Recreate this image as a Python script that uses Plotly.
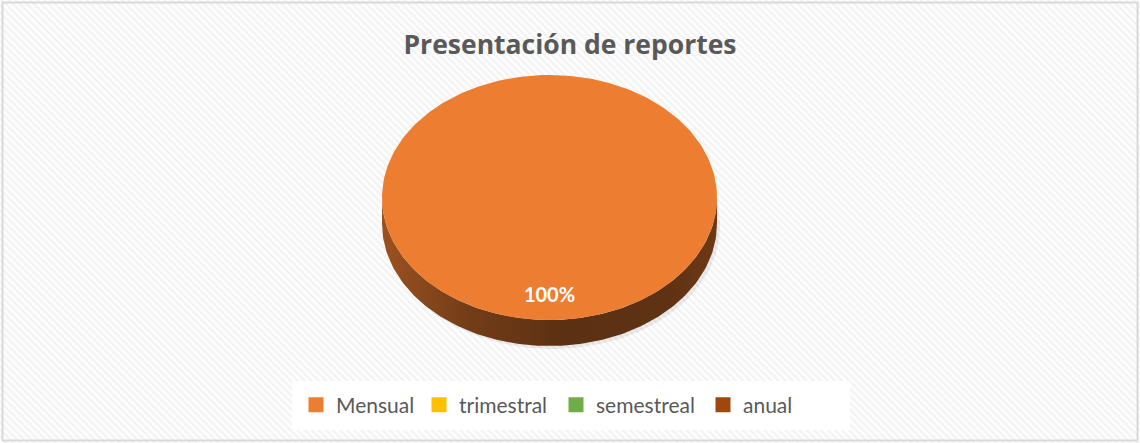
import base64
import numpy as np
import plotly.graph_objects as go

# ---------------- data ----------------
categories = ["Mensual", "trimestral", "semestreal", "anual"]
values = [100, 0, 0, 0]
colors = ["#ED7D31", "#FFC000", "#70AD47", "#9E480E"]
chart_title = "Presentación de reportes"

# ---------------- geometry (pixel space) ----------------
W, H = 1140, 443
CX, CY = 549.5, 197.5      # centre of top face
RX, RY = 167.5, 122.5      # semi-axes of top face
DEPTH = 26                 # thickness of the 3D pie
LABEL_R = 0.81
LEGEND_TEXT_X = [337, 460, 597, 744]   # left edge of each legend label (px)


def hex_rgb(h):
    h = h.lstrip("#")
    return tuple(int(h[i:i + 2], 16) for i in (0, 2, 4))


def shade(h, f):
    r, g, b = hex_rgb(h)
    return "rgb(%d,%d,%d)" % (r * f, g * f, b * f)


def ell(theta, dy=0.0, r=1.0):
    return CX + r * RX * np.cos(theta), CY + dy + r * RY * np.sin(theta)


fig = go.Figure()

# soft shadow under the pie
th = np.linspace(0, 2 * np.pi, 200)
sx, sy = ell(th, dy=DEPTH + 3)
fig.add_trace(go.Scatter(x=sx + 3, y=sy, fill="toself", mode="lines",
                         line=dict(width=0), fillcolor="rgba(0,0,0,0.07)",
                         hoverinfo="skip", showlegend=False))

total = float(sum(values))
start = -np.pi / 2
slices = []
for cat, val, col in zip(categories, values, colors):
    frac = val / total
    end = start + 2 * np.pi * frac
    slices.append((cat, val, col, start, end, frac))
    start = end

# side walls (front half only: theta in [0, pi] modulo 2pi)
for cat, val, col, s, e, frac in slices:
    if frac <= 0:
        continue
    for off in (-2 * np.pi, 0, 2 * np.pi):
        a0, a1 = max(s, off), min(e, off + np.pi)
        if a1 <= a0:
            continue
        t = np.linspace(a0, a1, 150)
        tx, ty = ell(t)
        bx, by = ell(t[::-1], dy=DEPTH)
        fig.add_trace(go.Scatter(
            x=np.concatenate([tx, bx, tx[:1]]),
            y=np.concatenate([ty, by, ty[:1]]),
            fill="toself", mode="lines", line=dict(width=0),
            fillgradient=dict(type="horizontal",
                              colorscale=[[0, shade(col, 0.66)],
                                          [0.25, shade(col, 0.49)],
                                          [0.55, shade(col, 0.39)],
                                          [0.85, shade(col, 0.40)],
                                          [1, shade(col, 0.46)]]),
            hoverinfo="skip", showlegend=False))

# top faces
for cat, val, col, s, e, frac in slices:
    if frac <= 0:
        continue
    t = np.linspace(s, e, 300)
    tx, ty = ell(t)
    if frac < 1:
        tx = np.concatenate([[CX], tx, [CX]])
        ty = np.concatenate([[CY], ty, [CY]])
    fig.add_trace(go.Scatter(x=tx, y=ty, fill="toself", mode="lines",
                             line=dict(width=0), fillcolor=col,
                             name=cat, hoverinfo="name", showlegend=False))

# data labels
for cat, val, col, s, e, frac in slices:
    if frac <= 0:
        continue
    lx, ly = ell((s + e) / 2, r=LABEL_R)
    fig.add_trace(go.Scatter(x=[lx], y=[ly], mode="text",
                             text=["%d%%" % round(frac * 100)],
                             textfont=dict(family="Lato", size=20, color="white", weight="bold"),
                             hoverinfo="skip", showlegend=False))

# legend entries: one legend per entry so spacing matches the original
legend_layout = {}
for i, (cat, col) in enumerate(zip(categories, colors)):
    lname = "legend" if i == 0 else "legend%d" % (i + 1)
    fig.add_trace(go.Scatter(x=[None], y=[None], mode="markers", name=cat,
                             legend=lname,
                             marker=dict(symbol="square", size=15, color=col)))
    legend_layout[lname] = dict(
        orientation="h", x=(LEGEND_TEXT_X[i] - 41) / W, xanchor="left",
        y=1 - 405 / H, yanchor="middle",
        font=dict(family="Lato", size=21, color="#595959"),
        bgcolor="rgba(0,0,0,0)", itemclick=False, itemdoubleclick=False,
        itemwidth=30)

# background pattern
svg = ('<svg xmlns="http://www.w3.org/2000/svg" width="%d" height="%d">'
       '<defs><pattern id="p" width="5" height="5" patternUnits="userSpaceOnUse" '
       'patternTransform="rotate(-45)"><rect width="2.5" height="5" fill="#f3f3f3"/></pattern></defs>'
       '<rect width="100%%" height="100%%" fill="white"/>'
       '<rect width="100%%" height="100%%" fill="url(#p)"/></svg>') % (W, H)
uri = "data:image/svg+xml;base64," + base64.b64encode(svg.encode()).decode()

fig.update_layout(
    width=W, height=H,
    margin=dict(l=0, r=0, t=0, b=0),
    paper_bgcolor="white", plot_bgcolor="rgba(0,0,0,0)",
    images=[dict(source=uri, xref="paper", yref="paper", x=0, y=1,
                 sizex=1, sizey=1, xanchor="left", yanchor="top",
                 sizing="stretch", layer="below")],
    title=dict(text=chart_title, x=0.5, xanchor="center",
               y=1 - 45 / H, yanchor="middle", yref="container",
               font=dict(family="Open Sans", size=26.5, color="#595959", weight="bold")),
    xaxis=dict(range=[0, W], visible=False, fixedrange=True, domain=[0, 1]),
    yaxis=dict(range=[H, 0], visible=False, fixedrange=True, domain=[0, 1]),
    shapes=[dict(type="rect", xref="x", yref="y", x0=292, x1=850, y0=381, y1=430,
                 fillcolor="white", line=dict(width=0), layer="below"),
            dict(type="rect", xref="x", yref="y", x0=2.5, x1=W - 2.5,
                 y0=2.5, y1=H - 2.5, line=dict(color="#d9d9d9", width=2))],
    showlegend=True,
    **legend_layout,
)

fig.write_html("out.html", config={"displayModeBar": False},
               post_script="document.body.style.margin='0';document.body.style.overflow='hidden';")
